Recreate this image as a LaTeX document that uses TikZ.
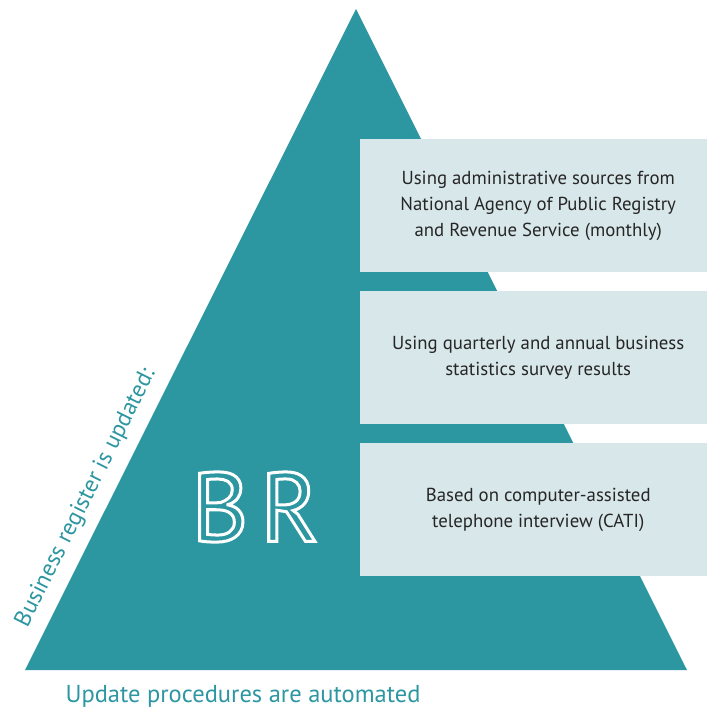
\documentclass[tikz,border=0pt]{standalone}
\usepackage{fontspec}
\setmainfont{PT Sans}
\definecolor{BRTeal}{RGB}{44,150,161}
\definecolor{BRLight}{RGB}{216,231,234}
\usepackage{tikz}
\usetikzlibrary{positioning}

\begin{document}
\begin{tikzpicture}[x=1pt,y=-1pt,
    srcbox/.style={rectangle, fill=BRLight, minimum width=356pt, minimum height=133pt, anchor=north west, align=center, font=\fontsize{18.8}{26}\selectfont, text=black!85}]
      \useasboundingbox (0,0) rectangle (707,710);
      \fill[BRTeal] (356,9) coordinate (apex) -- (687,670) coordinate (bright) -- (25,670) coordinate (bleft) -- cycle;
      \node[srcbox] (admin) at (360,139) {Using administrative sources from\\National Agency of Public Registry\\and Revenue Service (monthly)};
      \node[srcbox] (survey) at (360,291) {Using quarterly and annual business\\statistics survey results};
      \node[srcbox] (cati) at (360,443) {Based on computer-assisted\\telephone interview (CATI)};
      \node[font=\fontsize{98}{98}\selectfont, white] (br) at (255,507) {\special{pdf:literal direct 1 Tr 3 w}B\hspace{12pt}R\special{pdf:literal direct 0 Tr}};
      \node[font=\fontsize{23.5}{23.5}\selectfont, text=BRTeal, rotate=63.4] (updated) at (86,498) {Business register is updated:};
      \node[font=\fontsize{24.5}{24.5}\selectfont, text=BRTeal, anchor=west] (automated) at (62,696) {Update procedures are automated};
    \end{tikzpicture}
\end{document}
